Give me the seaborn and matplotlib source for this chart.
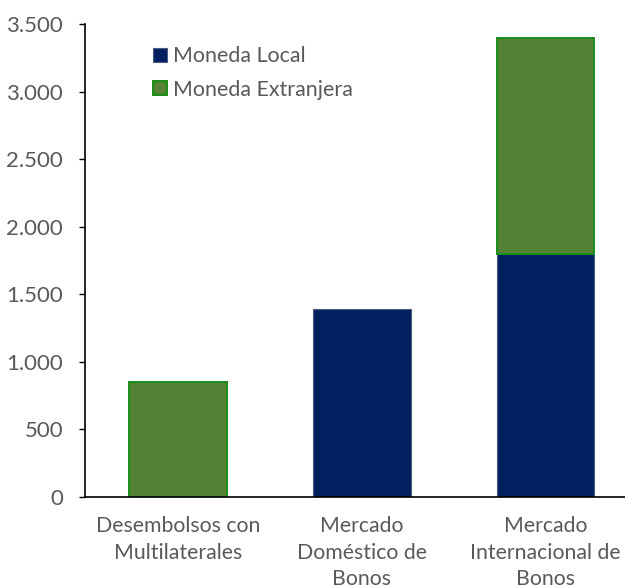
import matplotlib
matplotlib.use("Agg")
import matplotlib.pyplot as plt
import seaborn as sns
import pandas as pd
from matplotlib.patches import Patch
from matplotlib.ticker import FixedLocator, FuncFormatter

# Datos
categorias = [
    "Desembolsos con\nMultilaterales",
    "Mercado\nDoméstico de\nBonos",
    "Mercado\nInternacional de\nBonos",
]
moneda_local = [0, 1390, 1800]
moneda_extranjera = [850, 0, 1600]
series = ["Moneda Local", "Moneda Extranjera"]
yticks = [0, 500, 1000, 1500, 2000, 2500, 3000, 3500]

NAVY = "#002060"
NAVY_EDGE = "#4a5c80"
GREEN = "#548235"
GREEN_EDGE = "#1a8c1a"
TEXT = "#595959"

sns.set_theme(style="white")
plt.rcParams["font.family"] = ["Lato", "DejaVu Sans"]

W, H = 625, 587
fig = plt.figure(figsize=(W / 100, H / 100), dpi=100)
ax = fig.add_axes([85 / W, 1 - 497 / H, 552.5 / W, (497 - 24.3) / H])

local = pd.DataFrame({"cat": categorias, "valor": moneda_local})
local = local[local["valor"] > 0]
ext = pd.DataFrame({"cat": categorias, "valor": moneda_extranjera, "base": moneda_local})
ext = ext[ext["valor"] > 0]

sns.barplot(data=local, x="cat", y="valor", order=categorias, color=NAVY,
            saturation=1, width=0.53, edgecolor=NAVY_EDGE, linewidth=0.8,
            errorbar=None, ax=ax)
sns.barplot(data=ext, x="cat", y="valor", order=categorias, color=GREEN,
            saturation=1, width=0.53, edgecolor=GREEN_EDGE, linewidth=1.4,
            bottom=ext["base"].to_numpy(), errorbar=None, ax=ax)

ax.set_xlim(-0.506, 2.5)
ax.set_ylim(0, 3500)
ax.yaxis.set_major_locator(FixedLocator(yticks))
ax.yaxis.set_major_formatter(FuncFormatter(lambda v, p: f"{v:,.0f}".replace(",", ".")))
ax.set_xlabel("")
ax.set_ylabel("")

for s in ("top", "right"):
    ax.spines[s].set_visible(False)
for s in ("left", "bottom"):
    ax.spines[s].set_color("black")
    ax.spines[s].set_linewidth(1.2)

ax.tick_params(axis="y", direction="out", length=4.3, width=1, color="black",
               pad=11.5, labelsize=16, labelcolor=TEXT, left=True)
ax.tick_params(axis="x", length=0, pad=14, labelsize=15.3, labelcolor=TEXT)
for lbl in ax.get_xticklabels():
    lbl.set_linespacing(1.4)

handles = [
    Patch(facecolor=NAVY, edgecolor=NAVY_EDGE, linewidth=0.8, label=series[0]),
    Patch(facecolor=GREEN, edgecolor=GREEN_EDGE, linewidth=1.4, label=series[1]),
]
ax.legend(handles=handles, loc="upper left", bbox_to_anchor=(153 / W, 1 - 46.5 / H),
          bbox_transform=fig.transFigure, frameon=False, fontsize=15.4,
          labelcolor=TEXT, handlelength=0.65, handleheight=0.65,
          handletextpad=0.3, labelspacing=0.62, borderpad=0, borderaxespad=0)

fig.savefig("out.png", dpi=100)
